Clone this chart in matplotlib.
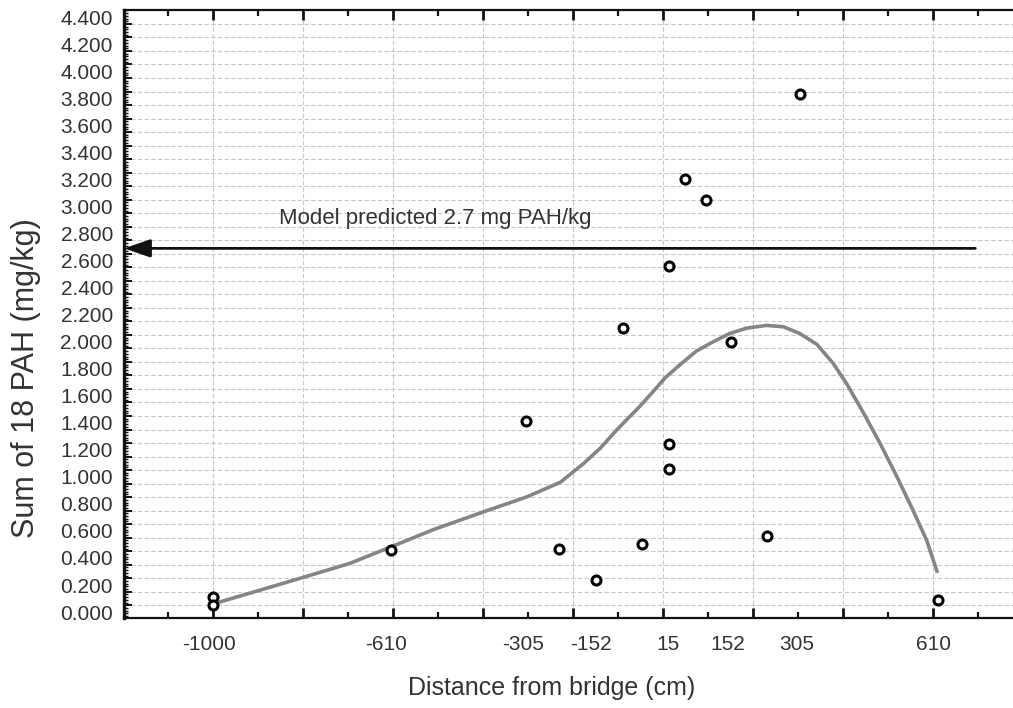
import numpy as np
import matplotlib.pyplot as plt
from matplotlib.ticker import FixedLocator, NullFormatter

plt.rcParams['font.family'] = ['Liberation Sans Narrow', 'Liberation Sans', 'DejaVu Sans']

# x is in chart position units (one major tick = 1 unit), labels are the distances
dist_labels = ['-1000', '-610', '-305', '-152', '15', '152', '305', '610']
dist_label_pos = [-0.04, 1.92, 3.44, 4.20, 5.06, 5.72, 6.49, 8.01]

# measured samples
sample_x = [0.0, 0.0, 1.98, 3.48, 3.84, 4.26, 4.77, 5.07, 5.07, 6.16, 8.06,
            6.52, 5.24, 5.48, 5.07, 4.56, 5.76]
sample_y = [0.11, 0.05, 0.46, 1.41, 0.47, 0.24, 0.50, 1.24, 1.06, 0.56, 0.09,
            3.83, 3.20, 3.05, 2.56, 2.10, 2.00]

# smoothed trend line
trend_x = [0.0, 0.41, 0.97, 1.52, 1.97, 2.45, 3.0, 3.48, 3.86, 4.12, 4.30, 4.49,
           4.74, 4.89, 5.02, 5.19, 5.37, 5.56, 5.74, 5.93, 6.15, 6.34, 6.52, 6.71,
           6.89, 7.04, 7.23, 7.41, 7.60, 7.78, 7.93, 8.05]
trend_y = [0.06, 0.14, 0.25, 0.36, 0.48, 0.61, 0.74, 0.85, 0.96, 1.10, 1.21, 1.35,
           1.52, 1.63, 1.73, 1.83, 1.93, 2.00, 2.06, 2.10, 2.12, 2.11, 2.06, 1.98,
           1.84, 1.69, 1.47, 1.25, 1.00, 0.75, 0.53, 0.29]

model_value = 2.69
y_labels = np.arange(0, 4.41, 0.2)

fig = plt.figure(figsize=(10.13, 7.08), dpi=100)
ax = fig.add_axes([124 / 1013, 90 / 708, 889 / 1013, 608 / 708])
ax.set_xlim(-0.989, 8.889)
ax.set_ylim(-0.044, 4.453)

# grid and ticks
ax.xaxis.set_major_locator(FixedLocator(np.arange(0, 9)))
ax.xaxis.set_minor_locator(FixedLocator(np.arange(-0.5, 9, 1.0)))
ax.xaxis.set_major_formatter(NullFormatter())
ax.yaxis.set_major_locator(FixedLocator(np.arange(0.05, 4.4, 0.1)))
ax.yaxis.set_minor_locator(FixedLocator(np.arange(-0.03, 4.45, 0.02)))
ax.yaxis.set_major_formatter(NullFormatter())
ax.grid(True, which='major', color='#c8c8c8', linestyle=(0, (4, 2)), linewidth=0.8)
ax.set_axisbelow(True)
ax.tick_params(axis='x', which='major', direction='in', length=7, width=2,
               top=True, bottom=True, color='#111111')
ax.tick_params(axis='x', which='minor', direction='in', length=4, width=1.6,
               top=True, bottom=True, color='#111111')
ax.tick_params(axis='y', which='major', direction='in', length=6, width=1.4, color='#111111')
ax.tick_params(axis='y', which='minor', direction='in', length=3, width=1.0, color='#111111')

ax.spines['right'].set_visible(False)
ax.spines['left'].set_linewidth(2.4)
ax.spines['bottom'].set_linewidth(1.6)
ax.spines['top'].set_linewidth(1.6)
for s in ax.spines.values():
    s.set_color('#111111')

# labels on secondary axes
secx = ax.secondary_xaxis('bottom')
secx.set_xticks(dist_label_pos, labels=dist_labels)
secx.tick_params(length=0, pad=12, labelsize=15, labelcolor='#333333')
secx.spines['bottom'].set_visible(False)

secy = ax.secondary_yaxis('left')
secy.set_yticks(y_labels, labels=[f'{v:.3f}' for v in y_labels])
secy.tick_params(length=0, pad=8, labelsize=15, labelcolor='#333333')
secy.spines['left'].set_visible(False)

# data
ax.plot(trend_x, trend_y, color='#858585', linewidth=2.6, solid_capstyle='butt',
        solid_joinstyle='round', zorder=3)
ax.plot(sample_x, sample_y, linestyle='none', marker='o', markersize=6.5,
        markerfacecolor='white', markeredgecolor='black', markeredgewidth=2.2, zorder=4)

# model prediction arrow
ax.annotate('', xy=(-0.989, model_value), xytext=(8.47, model_value),
            arrowprops=dict(arrowstyle='-|>,head_length=1.6,head_width=0.55',
                            mutation_scale=10, color='#111111', linewidth=2,
                            shrinkA=0, shrinkB=0), zorder=5)
ax.text(0.733, 2.914, 'Model predicted 2.7 mg PAH/kg', ha='left', va='center',
        fontsize=16, color='#333333')

fig.text(552 / 1013, 1 - 688 / 708, 'Distance from bridge (cm)', ha='center', va='center',
         fontsize=18, color='#333333')
fig.text(26 / 1013, 1 - 378 / 708, 'Sum of 18 PAH (mg/kg)', ha='center', va='center',
         rotation=90, fontsize=22, color='#333333')

fig.savefig('out.png', dpi=100)
